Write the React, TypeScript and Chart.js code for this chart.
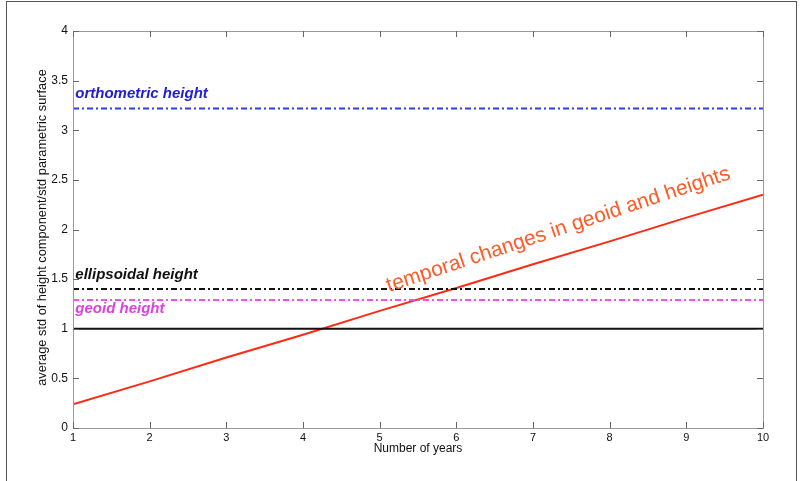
import React, { useEffect, useRef } from "react";
import { Chart, registerables } from "chart.js";
Chart.register(...registerables);

const years = [1, 2, 3, 4, 5, 6, 7, 8, 9, 10];
const temporal = [0.24, 0.47, 0.71, 0.94, 1.18, 1.41, 1.65, 1.88, 2.12, 2.35];
const reference = [1, 1];
const orthometric = [3.22, 3.22];
const ellipsoidal = [1.4, 1.4];
const geoid = [1.29, 1.29];
const yTicks = [0, 0.5, 1, 1.5, 2, 2.5, 3, 3.5, 4];
const xTicks = [1, 2, 3, 4, 5, 6, 7, 8, 9, 10];

const labelTexts = ["orthometric height", "ellipsoidal height", "geoid height", "temporal changes in geoid and heights"];
const labelX = [1.03, 1.03, 1.03, 5.12];
const labelY = [3.32, 1.5, 1.16, 1.37];
const labelColors = ["#2020d0", "#111111", "#e040e0", "#ff5a28"];
const labelAngles = [0, 0, 0, -18.3];
const labelFonts = [
  "italic bold 15px 'Liberation Sans', Arial, sans-serif",
  "italic bold 15px 'Liberation Sans', Arial, sans-serif",
  "italic bold 15px 'Liberation Sans', Arial, sans-serif",
  "21px 'Liberation Sans', Arial, sans-serif",
];
const yTitle = "average std of height component/std parametric surface";
const yTitleCenter = 2.02;

const FONT = "'Liberation Sans', Arial, sans-serif";

const matlabBox = {
  id: "matlabBox",
  afterDatasetsDraw(chart: any) {
    const { ctx, chartArea: a, scales } = chart;
    const xs = scales.x, ys = scales.y;
    ctx.save();
    for (let i = 0; i < labelTexts.length; i++) {
      ctx.save();
      ctx.translate(xs.getPixelForValue(labelX[i]), ys.getPixelForValue(labelY[i]));
      ctx.rotate((labelAngles[i] * Math.PI) / 180);
      ctx.font = labelFonts[i];
      ctx.fillStyle = labelColors[i];
      ctx.textAlign = "left";
      ctx.textBaseline = "alphabetic";
      ctx.fillText(labelTexts[i], 0, 0);
      ctx.restore();
    }
    // y title
    ctx.save();
    ctx.translate(42, ys.getPixelForValue(yTitleCenter));
    ctx.rotate(-Math.PI / 2);
    ctx.font = "12.8px " + FONT;
    ctx.fillStyle = "#111";
    ctx.textAlign = "center";
    ctx.textBaseline = "middle";
    ctx.fillText(yTitle, 0, 0);
    ctx.restore();
    // box
    ctx.strokeStyle = "#9a9a9a";
    ctx.lineWidth = 1;
    ctx.strokeRect(a.left + 0.5, a.top + 0.5, a.right - a.left, a.bottom - a.top);
    ctx.strokeStyle = "#666";
    ctx.beginPath();
    const tl = 6;
    xTicks.forEach((v) => {
      const px = Math.round(xs.getPixelForValue(v)) + 0.5;
      ctx.moveTo(px, a.bottom);
      ctx.lineTo(px, a.bottom - tl);
      ctx.moveTo(px, a.top);
      ctx.lineTo(px, a.top + tl);
    });
    yTicks.forEach((v) => {
      const py = Math.round(ys.getPixelForValue(v)) + 0.5;
      ctx.moveTo(a.left, py);
      ctx.lineTo(a.left + tl, py);
      ctx.moveTo(a.right, py);
      ctx.lineTo(a.right - tl, py);
    });
    ctx.stroke();
    ctx.restore();
  },
};

function pts(vals: number[]) {
  return vals.map((y, i) => ({ x: vals.length === 2 ? (i === 0 ? years[0] : years[years.length - 1]) : years[i], y }));
}

export default function App() {
  const ref = useRef<HTMLCanvasElement>(null);
  useEffect(() => {
    const dashDot = [6, 3, 2, 3];
    const chart = new Chart(ref.current!, {
      type: "line",
      data: {
        datasets: [
          { data: pts(reference), borderColor: "#111", borderWidth: 2, pointRadius: 0 },
          { data: pts(orthometric), borderColor: "#2a3cf0", borderWidth: 2, borderDash: dashDot, pointRadius: 0 },
          { data: pts(ellipsoidal), borderColor: "#111", borderWidth: 2, borderDash: dashDot, pointRadius: 0 },
          { data: pts(geoid), borderColor: "#f050f0", borderWidth: 2, borderDash: dashDot, pointRadius: 0 },
          { data: pts(temporal), borderColor: "#ff2a14", borderWidth: 2, pointRadius: 0 },
        ],
      },
      options: {
        animation: false,
        responsive: false,
        events: [],
        layout: { padding: { left: 0, right: 47, top: 31, bottom: 0 } },
        plugins: { legend: { display: false }, tooltip: { enabled: false } },
        scales: {
          x: {
            type: "linear",
            min: 1,
            max: 10,
            grid: { display: false, drawTicks: false },
            border: { display: false },
            afterBuildTicks: (s: any) => { s.ticks = xTicks.map((v) => ({ value: v })); },
            afterFit: (s: any) => { s.height = 53; },
            ticks: { padding: 3, color: "#111", font: { family: FONT, size: 11 }, maxRotation: 0, callback: (v: any) => String(v) },
            title: { display: true, text: "Number of years", color: "#111", font: { family: FONT, size: 12 }, padding: { top: 0, bottom: 25 } },
          },
          y: {
            type: "linear",
            min: 0,
            max: 4,
            grid: { display: false, drawTicks: false },
            border: { display: false },
            afterBuildTicks: (s: any) => { s.ticks = yTicks.map((v) => ({ value: v })); },
            afterFit: (s: any) => { s.width = 73; },
            ticks: { padding: 5, color: "#111", font: { family: FONT, size: 12 }, callback: (v: any) => String(v) },
            title: { display: false },
          },
        },
      },
      plugins: [matlabBox],
    } as any);
    return () => chart.destroy();
  }, []);
  return (
    <div style={{ position: "absolute", left: 0, top: 0, width: 810, height: 481, background: "#fff" }}>
      <div style={{ position: "absolute", left: 6, top: 1, width: 791, height: 490, border: "1.5px solid #555", boxSizing: "border-box" }} />
      <canvas ref={ref} width={810} height={481} style={{ position: "absolute", left: 0, top: 0 }} />
    </div>
  );
}
